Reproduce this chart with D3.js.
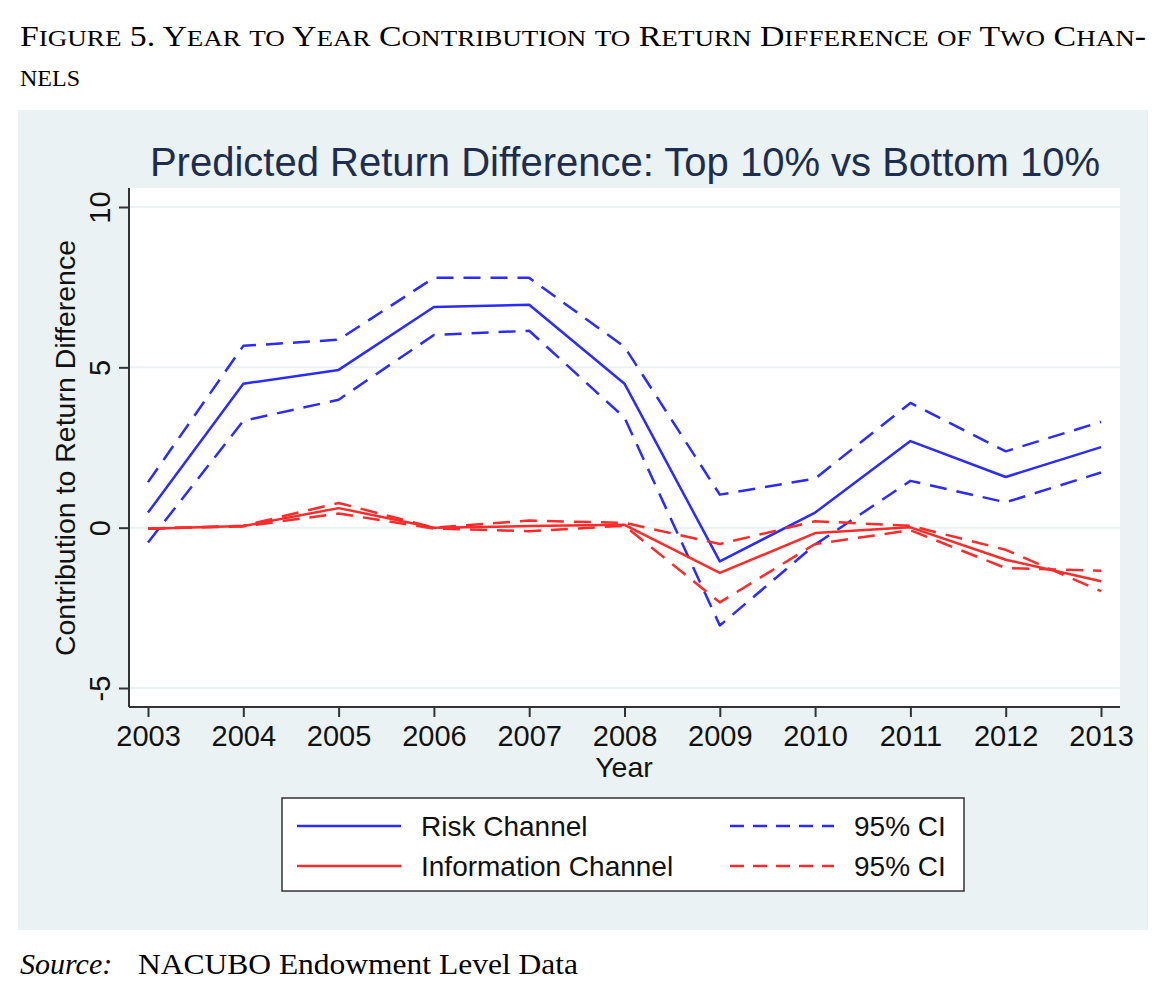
<!DOCTYPE html>
<html>
<head>
<meta charset="utf-8">
<script src="https://cdn.jsdelivr.net/npm/d3@7"></script>
<style>
  body { margin: 0; background: #ffffff; }
  text { font-family: "Liberation Sans", Arial, sans-serif; }
  .serif { font-family: "Liberation Serif", "Times New Roman", serif; }
</style>
</head>
<body>
<div id="chart"></div>
<script>
// data
var years = [2003, 2004, 2005, 2006, 2007, 2008, 2009, 2010, 2011, 2012, 2013];
var riskChannel = [0.47, 4.49, 4.92, 6.88, 6.95, 4.49, -1.05, 0.47, 2.70, 1.58, 2.51];
var riskCiHigh  = [1.42, 5.67, 5.86, 7.79, 7.79, 5.64, 1.03, 1.53, 3.89, 2.38, 3.30];
var riskCiLow   = [-0.46, 3.33, 3.99, 6.01, 6.14, 3.43, -3.05, -0.53, 1.46, 0.79, 1.72];
var infoChannel = [-0.03, 0.05, 0.61, 0.00, 0.05, 0.09, -1.41, -0.17, 0.01, -1.00, -1.67];
var infoCiA     = [-0.03, 0.06, 0.77, 0.00, 0.22, 0.15, -0.51, 0.20, 0.06, -0.69, -1.98];
var infoCiB     = [-0.03, 0.04, 0.44, -0.03, -0.11, 0.06, -2.33, -0.51, -0.08, -1.26, -1.34];
var yTicks = [-5, 0, 5, 10];

var W = 1166, H = 992;
var blue = "#2b2bff", red = "#ff2b2b";

var svg = d3.select("#chart").append("svg")
    .attr("width", W)
    .attr("height", H);

// small caps by hand: capitals at full size, lower case as smaller capitals
function smallCaps(sel, str, big, small) {
    var runs = str.match(/[a-z]+|[^a-z]+/g);
    runs.forEach(function(r) {
        var lower = /[a-z]/.test(r[0]);
        sel.append("tspan")
            .style("font-size", (lower ? small : big) + "px")
            .text(lower ? r.toUpperCase() : r);
    });
}

var cap1 = svg.append("text").attr("class", "serif")
    .attr("x", 20).attr("y", 46)
    .attr("textLength", 1126).attr("lengthAdjust", "spacingAndGlyphs");
smallCaps(cap1, "Figure 5. Year to Year Contribution to Return Difference of Two Chan-", 30, 24);
var cap2 = svg.append("text").attr("class", "serif")
    .attr("x", 20).attr("y", 86);
smallCaps(cap2, "nels", 30, 24);

// graph region background
svg.append("rect")
    .attr("x", 18).attr("y", 110)
    .attr("width", 1130).attr("height", 820)
    .attr("fill", "#eaf2f3");

// plot area
var margin = {top: 188, left: 129, right: 1120, bottom: 707};
svg.append("rect")
    .attr("x", margin.left).attr("y", margin.top)
    .attr("width", margin.right - margin.left)
    .attr("height", margin.bottom - margin.top)
    .attr("fill", "#ffffff");

var x = d3.scaleLinear().domain([2003, 2013]).range([148, 1101]);
var y = d3.scaleLinear().domain([-5, 10]).range([688, 207]);

// grid lines
svg.append("g").selectAll("line")
    .data(yTicks)
    .enter().append("line")
    .attr("x1", margin.left).attr("x2", margin.right)
    .attr("y1", function(d) { return y(d); })
    .attr("y2", function(d) { return y(d); })
    .attr("stroke", "#eaf2f3").attr("stroke-width", 2);

// title
svg.append("text")
    .attr("x", 625).attr("y", 176)
    .attr("text-anchor", "middle")
    .style("font-size", "40px").attr("fill", "#1c2d4f")
    .text("Predicted Return Difference: Top 10% vs Bottom 10%");

// Y axis (plain hyphen for negatives, as in the original)
var yAxis = svg.append("g")
    .attr("transform", "translate(" + margin.left + ",0)")
    .call(d3.axisLeft(y).tickValues(yTicks).tickSize(10).tickPadding(8)
        .tickFormat(function(d) { return String(d); }));
yAxis.select(".domain").attr("d", "M0," + margin.top + "V" + margin.bottom);
yAxis.selectAll("path, line").attr("stroke", "#333").attr("stroke-width", 2);
yAxis.selectAll("text")
    .style("font-size", "29px").attr("fill", "#111")
    .attr("x", null).attr("dy", null)
    .attr("text-anchor", "middle")
    .attr("transform", "translate(-19,0)rotate(-90)")
    .attr("y", 0);

// X axis
var xAxis = svg.append("g")
    .attr("transform", "translate(0," + margin.bottom + ")")
    .call(d3.axisBottom(x).tickValues(years).tickFormat(d3.format("d")).tickSize(10).tickPadding(8));
xAxis.select(".domain").attr("d", "M" + margin.left + ",0H" + margin.right);
xAxis.selectAll("path, line").attr("stroke", "#333").attr("stroke-width", 2);
xAxis.selectAll("text").style("font-size", "29px").attr("fill", "#111");

// axis titles
svg.append("text")
    .attr("transform", "translate(75,448)rotate(-90)")
    .attr("text-anchor", "middle")
    .style("font-size", "28.5px").attr("fill", "#111")
    .text("Contribution to Return Difference");
svg.append("text")
    .attr("x", 624).attr("y", 777)
    .attr("text-anchor", "middle")
    .style("font-size", "28.5px").attr("fill", "#111")
    .text("Year");

// lines
var line = d3.line()
    .x(function(d, i) { return x(years[i]); })
    .y(function(d) { return y(d); });

var series = [
    {values: riskChannel, color: blue, dash: null},
    {values: riskCiHigh, color: blue, dash: "17,10"},
    {values: riskCiLow, color: blue, dash: "17,10"},
    {values: infoChannel, color: red, dash: null},
    {values: infoCiA, color: red, dash: "17,10"},
    {values: infoCiB, color: red, dash: "17,10"}
];
svg.append("g").selectAll("path")
    .data(series)
    .enter().append("path")
    .attr("d", function(d) { return line(d.values); })
    .attr("fill", "none")
    .attr("stroke", function(d) { return d.color; })
    .attr("stroke-width", 2.5)
    .attr("stroke-dasharray", function(d) { return d.dash; })
    .attr("stroke-linejoin", "round");

// legend
var legend = svg.append("g");
legend.append("rect")
    .attr("x", 282).attr("y", 798)
    .attr("width", 682).attr("height", 93)
    .attr("fill", "#ffffff").attr("stroke", "#333").attr("stroke-width", 1.5);

var legendItems = [
    {label: "Risk Channel", color: blue, dash: null, x: 297, row: 0},
    {label: "95% CI", color: blue, dash: "14,9", x: 730, row: 0},
    {label: "Information Channel", color: red, dash: null, x: 297, row: 1},
    {label: "95% CI", color: red, dash: "14,9", x: 730, row: 1}
];
var li = legend.selectAll(".item").data(legendItems).enter().append("g")
    .attr("transform", function(d) { return "translate(" + d.x + "," + (826 + d.row * 40) + ")"; });
li.append("line")
    .attr("x1", 0).attr("x2", 104).attr("y1", 0).attr("y2", 0)
    .attr("stroke", function(d) { return d.color; })
    .attr("stroke-width", 2.5)
    .attr("stroke-dasharray", function(d) { return d.dash; });
li.append("text")
    .attr("x", 124).attr("y", 10)
    .style("font-size", "28px").attr("fill", "#111")
    .text(function(d) { return d.label; });

// source note
var src = svg.append("text").attr("class", "serif")
    .attr("x", 20).attr("y", 974)
    .style("font-size", "30px");
src.append("tspan").style("font-style", "italic").text("Source:");
src.append("tspan").attr("x", 138).attr("textLength", 440).attr("lengthAdjust", "spacingAndGlyphs")
    .text("NACUBO Endowment Level Data");
</script>
</body>
</html>
